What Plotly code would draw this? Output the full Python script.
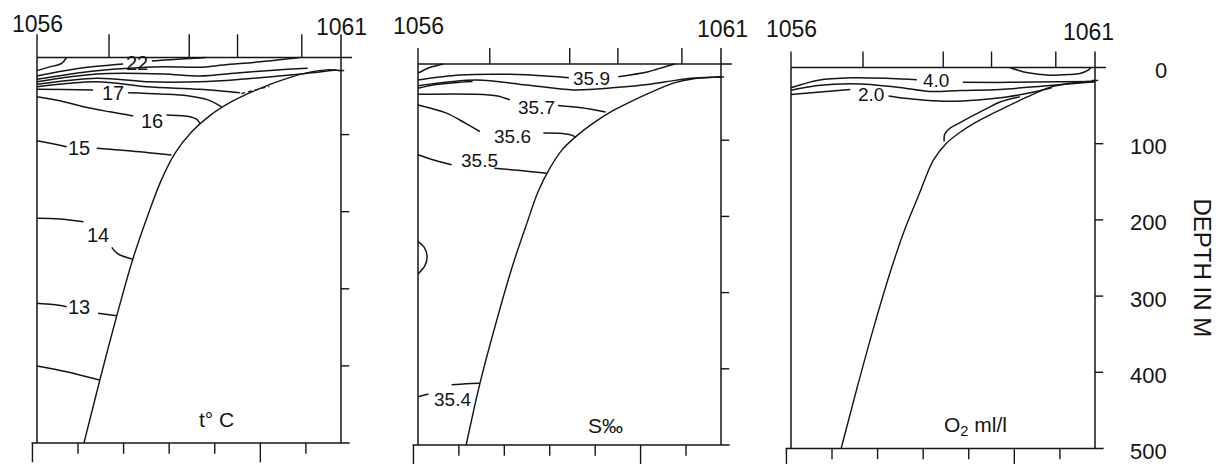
import plotly.graph_objects as go

FONT = "Liberation Sans, Arial, Helvetica, sans-serif"
INK = "#151515"
W, H = 1216, 464

# ---------------- data (km along section, depth in m) ----------------
STATIONS_KM = [0.0, 15.8, 33.4, 44.0, 58.1, 66.7]
STATION_FIRST = "1056"
STATION_LAST = "1061"
BOTTOM_TICKS_KM = [-1, 9, 19, 29, 39, 49, 59]
BOTTOM_TICK_LEN_M = [25, 14, 14, 14, 14, 25, 14]
DEPTH_TICKS_M = [0, 100, 200, 300, 400, 500]
SECTION_KM = 66.7
BOTTOM_M = 500
SHELF_M = 17

PANEL_TITLES = ["t° C", "S‰", "O<sub>2</sub> ml/l"]
PANEL_TITLE_POS = [(39.4, 470), (41.2, 474), (40.5, 470)]
LABEL_1056_M = [-44, -50, -50]
LABEL_1061_M = [-39, -46, -46]
LABEL_1061_KM = [66.9, 67.0, 65.2]
TOP_TICK_M = [30, 21, 21]

# sea bed profile in each panel
SEABED_T = [(10.3, 500), (13.8, 418), (17.5, 335), (21.0, 262), (24.3, 205), (27.2, 160),
            (30.3, 124), (34.0, 96), (38.0, 75), (42.5, 58), (47.4, 44), (53.9, 29),
            (59.9, 19), (63.6, 16), (66.7, 17)]
SEABED_S = [(10.6, 500), (13.6, 420), (17.3, 337), (20.8, 265), (23.8, 212), (26.4, 168),
            (29.0, 137), (31.8, 112), (35.0, 94), (38.5, 78), (43.0, 61), (48.0, 46),
            (52.5, 34), (56.2, 25), (61, 19), (66.7, 17)]
SEABED_O = [(11.0, 500), (14.6, 418), (18.2, 340), (21.8, 268), (25.0, 212), (28.0, 168),
            (31.2, 122), (34.0, 100), (37.1, 85), (40.5, 72), (44.4, 60), (51.7, 39),
            (56.8, 26), (62, 20), (66.7, 18)]

# temperature isolines
T_CORNER = [(0, 17), (2.6, 12.5), (5.4, 7.5), (6.5, 0)]
T_22_L = [(0, 24), (9.4, 14), (18.9, 8.4)]
T_22_R = [(25.2, 4.5), (30, 2.5), (35.7, 0.6), (37, 0)]
T_A = [(0, 28.3), (13.1, 17.1), (27.7, 11.9), (35.7, 12.7), (40.9, 9.7), (50, 5), (57.7, 0)]
T_B = [(0, 31.4), (13.1, 21.4), (27.7, 21.4), (35.7, 24), (44.5, 19.7), (52, 16.5), (59.4, 14)]
T_C = [(0, 34.8), (13.1, 27), (24.1, 31.4), (35.7, 31.4), (44.5, 28.3), (55.5, 22.7), (65.7, 16.2)]
T_D = [(0, 37.9), (13.1, 31.4), (24.1, 37.9), (35.7, 41.2), (44.5, 45.7)]
T_D_DASH = [(44.8, 47), (51, 37.5)]
T_17_L = [(0, 41.2), (6, 41.5), (12.3, 42.2)]
T_17_R = [(20, 45.7), (27, 47.3), (33, 49.5), (37.5, 55), (40.5, 64)]
T_16_L = [(0, 50.8), (5, 56), (10.2, 63.8), (16, 70.5), (21.1, 75.9)]
T_16_R = [(28.4, 74.6), (31.5, 75.5), (33.6, 76.8), (35, 80), (35.7, 85)]
T_15_L = [(0, 107.9), (3.5, 112), (6.5, 115.7)]
T_15_R = [(13.1, 117.8), (20, 121), (29.5, 126.5)]
T_14_U = [(0, 208.6), (5, 209.5), (10.2, 213)]
T_14_D = [(16.4, 246.2), (17.2, 252), (18.2, 256.2), (21.1, 261.8)]
T_13_L = [(0, 318.8), (3.5, 320.5), (6.5, 323.2)]
T_13_R = [(13.4, 331.8), (17.5, 334.9)]
T_12 = [(0, 400), (6.5, 407.5), (13.7, 418.3)]
TEMP_LABELS = [("22", 22.0, 6.5), ("17", 16.7, 46.4), ("16", 25.3, 82),
               ("15", 9.2, 117.8), ("14", 13.4, 230), ("13", 9.2, 323)]

# salinity isolines
S_CORNER = [(0, 12), (2.6, 4.6), (5.6, 0)]
S_359_L = [(0, 20.9), (9.2, 14.4), (20.2, 13.5), (29, 16), (33.2, 18)]
S_359_R = [(44.1, 16.6), (50.7, 10.1), (54.4, 3.5), (56.6, 0)]
S_A = [(0, 28.4), (12.9, 20.9), (23.9, 27.5), (34.2, 34.0), (43.4, 31.0), (51.1, 26.6),
       (56.6, 21.5), (61, 18.5), (66.7, 17)]
S_B = [(0, 31.8), (4, 27), (8, 24.5), (12, 23)]
S_357_L = [(0, 39.7), (12.9, 39.7), (17.5, 42), (20.2, 47)]
S_357_R = [(30.8, 54.5), (36, 57.5), (41.3, 63)]
S_356_L = [(0, 53.7), (6.3, 64.5), (10.5, 78), (13.6, 88.6)]
S_356_R = [(27.6, 90.7), (31, 91), (33.5, 92.9), (34.8, 96)]
S_355_L = [(0, 119), (3.5, 126), (7.4, 132.2)]
S_355_R = [(16.8, 136.9), (22, 139.5), (28.3, 143.4)]
S_BULGE = [(0, 233), (1.3, 240), (2.0, 252), (1.5, 265), (0, 275.6)]
S_354_U = [(7.4, 421), (10.5, 419.5), (13.6, 419)]
S_354_D = [(0, 436.6), (2.3, 433)]
SAL_LABELS = [("35.9", 38.2, 19.5), ("35.7", 26.0, 57), ("35.6", 20.8, 95),
              ("35.5", 13.6, 127), ("35.4", 7.6, 440)]

# oxygen isolines
O_LENS = [(48, 0), (49.5, 3), (51.7, 6.6), (56.8, 10.1), (61, 9.3), (63.4, 7.9), (65.2, 3.5), (65.8, 0)]
O_40_L = [(0, 26.6), (6.0, 16.7), (13.3, 13.5), (22, 14.5), (27.6, 16)]
O_40_R = [(37.7, 19.4), (48, 19.5), (59, 18.6), (66.7, 18.4)]
O_A = [(0, 29.8), (5.9, 23.6), (15.1, 21.6), (23.9, 26.2), (30.5, 31.5), (37.1, 30.2),
       (45.8, 28.9), (56.8, 23.6), (66.7, 18.8)]
O_20_L = [(0, 35.5), (6.5, 32), (13, 29)]
O_20_R = [(21.4, 37.5), (25, 40.5), (29.4, 42.9), (34.9, 44.2), (41, 42.5), (47.3, 38.7),
          (53, 32.5), (57.2, 26.5)]
O_TONGUE = [(33.6, 97), (33.7, 88), (34.6, 81), (37.8, 70), (42.9, 54), (46, 45), (50.2, 38.5)]
OXY_LABELS = [("4.0", 31.8, 17.5), ("2.0", 17.5, 35.5)]

PANELS = [
    dict(seabed=SEABED_T,
         lines=[T_CORNER, T_22_L, T_22_R, T_A, T_B, T_C, T_D, T_17_L, T_17_R, T_16_L, T_16_R,
                T_15_L, T_15_R, T_14_U, T_14_D, T_13_L, T_13_R, T_12],
         dashed=[T_D_DASH], labels=TEMP_LABELS, label_size=20),
    dict(seabed=SEABED_S,
         lines=[S_CORNER, S_359_L, S_359_R, S_A, S_B, S_357_L, S_357_R, S_356_L, S_356_R,
                S_355_L, S_355_R, S_BULGE, S_354_U, S_354_D],
         dashed=[], labels=SAL_LABELS, label_size=19),
    dict(seabed=SEABED_O,
         lines=[O_LENS, O_40_L, O_40_R, O_A, O_20_L, O_20_R, O_TONGUE],
         dashed=[], labels=OXY_LABELS, label_size=19),
]

# geometry of the three scanned panels (px): left, right, y of 0 m, y of 500 m
PANEL_PX = [(37, 341, 57.5, 443), (418, 721, 64, 445), (791, 1095, 67.5, 448.5)]

fig = go.Figure()


def add_path(pts, xa, ya, width=1.5, dash="solid", smooth=True):
    xs = [p[0] if p is not None else None for p in pts]
    ys = [p[1] if p is not None else None for p in pts]
    shape = "spline" if (smooth and len(pts) > 2) else "linear"
    fig.add_trace(go.Scatter(
        x=xs, y=ys, mode="lines", xaxis=xa, yaxis=ya,
        line=dict(color=INK, width=width, dash=dash, shape=shape, smoothing=0.9),
        hoverinfo="skip", showlegend=False, connectgaps=False))


def segments(pairs):
    out = []
    for a, b in pairs:
        out += [a, b, None]
    return out


layout_axes = {}
annotations = []
for i, (panel, px) in enumerate(zip(PANELS, PANEL_PX)):
    n = "" if i == 0 else str(i + 1)
    xa, ya = "x" + n, "y" + n
    left, right, y0, y1 = px
    k = SECTION_KM / (right - left)
    s = (y1 - y0) / BOTTOM_M
    layout_axes["xaxis" + n] = dict(domain=[(left - 8) / W, (right + 14) / W],
                                    range=[-8 * k, SECTION_KM + 14 * k], visible=False,
                                    anchor=ya, fixedrange=True)
    layout_axes["yaxis" + n] = dict(domain=[0, 1], range=[(H - y0) / s, -y0 / s],
                                    visible=False, anchor=xa, fixedrange=True)

    tt = TOP_TICK_M[i]
    # frame
    add_path([(0, 0), (SECTION_KM + 2.4, 0)], xa, ya, 1.7, smooth=False)
    add_path(segments([((sx, 0), (sx, -tt)) for sx in STATIONS_KM[:-1]]), xa, ya, 1.4, smooth=False)
    add_path([(0, 0), (0, BOTTOM_M)], xa, ya, 1.5, smooth=False)
    add_path([(SECTION_KM, -tt), (SECTION_KM, BOTTOM_M)], xa, ya, 1.5, smooth=False)
    add_path(segments([((SECTION_KM, d), (SECTION_KM + 1.8, d)) for d in DEPTH_TICKS_M[1:-1]]),
             xa, ya, 1.4, smooth=False)
    add_path([(SECTION_KM - 0.7, SHELF_M), (SECTION_KM + 0.7, SHELF_M)], xa, ya, 1.4, smooth=False)
    add_path([(-1.2, BOTTOM_M), (SECTION_KM + 1.9, BOTTOM_M)], xa, ya, 1.7, smooth=False)
    add_path(segments([((bx, BOTTOM_M), (bx, BOTTOM_M + L))
                       for bx, L in zip(BOTTOM_TICKS_KM, BOTTOM_TICK_LEN_M)]), xa, ya, 1.4, smooth=False)

    # sea bed
    add_path(panel["seabed"], xa, ya, 1.4)
    # isolines
    for line in panel["lines"]:
        add_path(line, xa, ya, 1.5)
    for line in panel["dashed"]:
        add_path(line, xa, ya, 1.3, dash="4px,3px", smooth=False)

    for txt, lx, ly in panel["labels"]:
        annotations.append(dict(text=txt, x=lx, y=ly, xref=xa, yref=ya, showarrow=False,
                                font=dict(family=FONT, size=panel["label_size"], color=INK),
                                xanchor="center", yanchor="middle"))
    tx, ty = PANEL_TITLE_POS[i]
    annotations.append(dict(text=PANEL_TITLES[i], x=tx, y=ty, xref=xa, yref=ya, showarrow=False,
                            font=dict(family=FONT, size=21, color=INK),
                            xanchor="center", yanchor="middle"))
    annotations.append(dict(text=STATION_FIRST, x=STATIONS_KM[0], y=LABEL_1056_M[i], xref=xa, yref=ya,
                            showarrow=False, font=dict(family=FONT, size=23, color=INK),
                            xanchor="center", yanchor="middle"))
    annotations.append(dict(text=STATION_LAST, x=LABEL_1061_KM[i], y=LABEL_1061_M[i], xref=xa, yref=ya,
                            showarrow=False, font=dict(family=FONT, size=23, color=INK),
                            xanchor="center", yanchor="middle"))

# depth scale on the right
for d in DEPTH_TICKS_M:
    annotations.append(dict(text=str(d), x=1169 / W, y=d, xref="paper", yref="y3", showarrow=False,
                            font=dict(family=FONT, size=22, color=INK),
                            xanchor="right", yanchor="middle", yshift=-3))
annotations.append(dict(text="DEPTH IN M", x=1202 / W, y=1 - 267.5 / H, xref="paper", yref="paper",
                        showarrow=False, textangle=90,
                        font=dict(family=FONT, size=24, color=INK),
                        xanchor="center", yanchor="middle"))

fig.update_layout(width=W, height=H, margin=dict(l=0, r=0, t=0, b=0, pad=0),
                  paper_bgcolor="white", plot_bgcolor="rgba(0,0,0,0)",
                  showlegend=False, annotations=annotations, **layout_axes)

fig.write_html("out.html", config={"displayModeBar": False},
               post_script="document.body.style.margin='0';")
